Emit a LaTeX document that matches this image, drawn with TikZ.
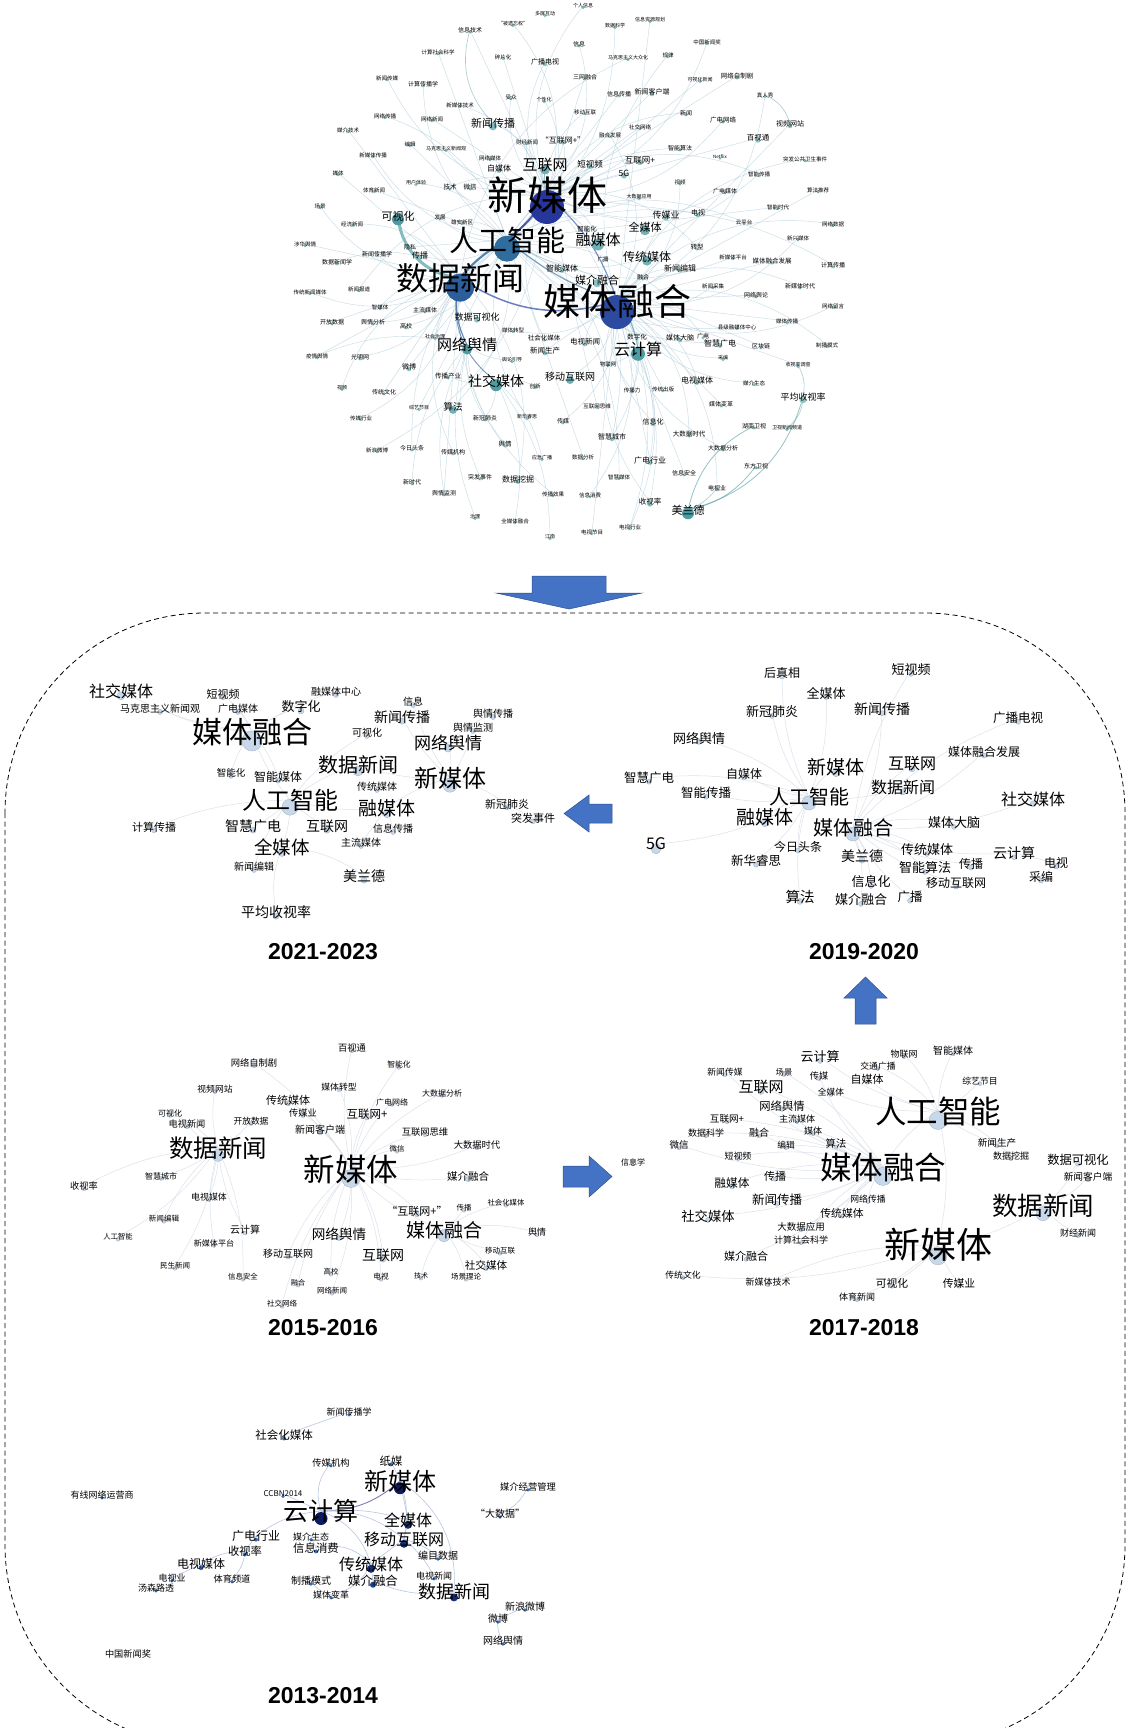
\documentclass[tikz,border=0pt]{standalone}
\usepackage{fontspec}
\newfontfamily\cjk{Noto Sans CJK SC}
\newfontfamily\yrfont{Liberation Sans}
\pgfdeclarelayer{bg}
\pgfsetlayers{bg,main}
\definecolor{arrowblue}{HTML}{4472C4}
\definecolor{arrowedge}{HTML}{2F528F}
\definecolor{tdot}{HTML}{8CC3C3}
\definecolor{tmid}{HTML}{4E9CA2}
\definecolor{navyA}{HTML}{26369A}
\definecolor{navyB}{HTML}{2C4BA0}
\definecolor{steelA}{HTML}{2E6D9E}
\definecolor{steelB}{HTML}{2B5E9A}
\definecolor{tline}{HTML}{A5C6D6}
\definecolor{pale}{HTML}{C7D8EB}
\definecolor{pgray}{HTML}{A3ABB5}
\definecolor{pline}{HTML}{DCE2EA}
\definecolor{udark}{HTML}{0D1B5E}
\definecolor{ublue}{HTML}{2F6FC0}
\definecolor{uline}{HTML}{B9C6E2}
\definecolor{upurple}{HTML}{7F7BB8}
\tikzset{
  lbl/.style={inner sep=0pt, text=black},
  dotc/.style={fill=tdot},
  tedge/.style={draw=tline, line width=0.45pt, opacity=0.6},
  pedge/.style={draw=pline, line width=0.5pt},
  uedge/.style={draw=uline, line width=0.6pt},
  yr/.style={font=\yrfont\bfseries\fontsize{23}{23}\selectfont, inner sep=0pt},
  blockarrow/.style={fill=arrowblue, draw=arrowedge, line width=0.5pt},
}
% [dot style]{name}{x}{y}{font size}{dot radius}{text}
\newcommand\K[7][]{%
  \fill[dotc,#1] (#3,#4+0.3*#5) circle (#6pt);%
  \node[lbl,font=\cjk\fontsize{#5}{#5}\selectfont] (#2) at (#3,#4) {#7};}
\begin{document}
\begin{tikzpicture}[x=1pt,y=-1pt]
\useasboundingbox (0,0) rectangle (1128,1728);
\begin{pgfonlayer}{bg}
\fill[white] (0,0) rectangle (1128,1728);
\end{pgfonlayer}

% ================= TOP NETWORK =================
\K{a1}{470}{30}{6}{1.8}{信息技术}
\K{a2}{438}{52}{5.5}{1.8}{计算社会科学}
\K{a3}{387}{78}{5.5}{1.8}{新闻传媒}
\K{a4}{423}{84}{6}{1.8}{计算传播学}
\K{a5}{460}{105}{5.5}{1.8}{新媒体技术}
\K{a6}{385}{116}{5.5}{1.8}{网络传播}
\K{a7}{432}{119}{5.5}{1.8}{网络新闻}
\K{a8}{348}{130}{5.5}{1.8}{媒介技术}
\K{a9}{410}{144}{5.5}{1.8}{编辑}
\K{a10}{446}{149}{5}{1.8}{马克思主义新闻观}
\K{a11}{373}{155}{5.5}{1.8}{新媒体传播}
\K{a12}{338}{173}{5.5}{1.8}{媒体}
\K{a13}{416}{183}{5}{1.8}{用户体验}
\K{a14}{450}{187}{6.5}{1.8}{技术}
\K{a15}{470}{187}{6.5}{1.8}{微信}
\K{a16}{374}{190}{5.5}{1.8}{体育新闻}
\K{a17}{320}{206}{5.5}{1.8}{场景}
\K[fill=tmid]{a18}{398}{216}{11}{6}{可视化}
\K{a19}{440}{217}{5.5}{1.8}{发展}
\K{a20}{462}{222}{5.5}{1.8}{雄安新区}
\K{a21}{352}{224}{5.5}{1.8}{经济新闻}
\K{a22}{305}{244}{5.5}{1.8}{涉华舆情}
\K{a23}{410}{247}{6}{1.8}{隐私}
\K{a24}{420}{255}{8}{2.5}{传播}
\K{a25}{377}{254}{6}{1.8}{新闻传播学}
\K{a26}{337}{262}{6}{1.8}{数据新闻学}
\K{a27}{583}{6}{5}{1.8}{个人信息}
\K{a28}{545}{14}{5}{1.8}{多屏互动}
\K{a29}{513}{24}{5}{1.8}{“被遗忘权”}
\K{a30}{615}{26}{5}{1.8}{数据科学}
\K{a31}{650}{20}{5}{1.8}{信息资源规划}
\K{a32}{503}{57}{5.5}{1.8}{碎片化}
\K{a33}{545}{62}{7}{2.2}{广播电视}
\K{a34}{579}{44}{6}{1.8}{信息}
\K{a35}{628}{58}{5}{1.8}{马克思主义大众化}
\K{a36}{668}{55}{5.5}{1.8}{规律}
\K{a37}{585}{77}{6}{1.8}{三网融合}
\K{a38}{511}{97}{5.5}{1.8}{受众}
\K{a39}{544}{100}{5}{1.8}{个性化}
\K{a40}{619}{94}{6}{1.8}{信息传播}
\K{a41}{652}{92}{7}{2.2}{新闻客户端}
\K{a42}{585}{112}{5.5}{1.8}{移动互联}
\K[fill=tmid!70]{a43}{493}{123}{11}{4}{新闻传播}
\K{a44}{640}{127}{5.5}{1.8}{社交网络}
\K{a45}{610}{135}{5.5}{1.8}{融合发展}
\K{a46}{527}{142}{5.5}{1.8}{财经新闻}
\K{a47}{563}{140}{8}{2.2}{“互联网+”}
\K{a48}{640}{160}{8.5}{2.5}{互联网+}
\K{a49}{490}{158}{5.5}{1.8}{网络媒体}
\K[fill=tmid!80]{a50}{545}{165}{15}{5}{互联网}
\K{a51}{590}{164}{8.5}{2.5}{短视频}
\K{a52}{624}{173}{8.5}{3}{5G}
\K{a53}{499}{168}{8}{2.5}{自媒体}
\K{a55}{639}{197}{5}{1.8}{大数据应用}
\K{a56}{666}{215}{9}{3}{传媒业}
\K[fill=tmid!80]{a57}{645}{227}{11}{5}{全媒体}
\K{a59}{587}{229}{6.5}{1.8}{智能化}
\K[fill=tmid!80]{a60}{598}{240}{15}{6}{融媒体}
\K[fill=tmid!80]{a61}{647}{257}{12}{5}{传统媒体}
\K{a62}{603}{259}{5.5}{1.8}{广播}
\K{a63}{562}{268}{8}{2.5}{智能媒体}
\K{a64}{707}{42}{5.5}{1.8}{中国新闻奖}
\K{a65}{700}{80}{5}{1.8}{可视化新闻}
\K{a66}{737}{76}{6.5}{1.8}{网络自制剧}
\K{a67}{765}{95}{5.5}{1.8}{真人秀}
\K{a68}{686}{113}{6}{1.8}{新闻}
\K{a69}{723}{120}{6.5}{1.8}{广电网络}
\K{a70}{790}{124}{7}{2.2}{视频网站}
\K{a71}{758}{138}{7.5}{2.5}{百视通}
\K{a72}{680}{148}{6}{1.8}{智能算法}
\K{a73}{720}{157}{4.5}{1.5}{Netflix}
\K{a74}{805}{159}{5.5}{1.8}{突发公共卫生事件}
\K{a75}{759}{174}{5.5}{1.8}{智能传播}
\K{a76}{680}{182}{5.5}{1.8}{视频}
\K{a77}{725}{191}{6}{1.8}{广电媒体}
\K{a78}{818}{190}{5.5}{1.8}{算法推荐}
\K{a79}{778}{207}{5.5}{1.8}{智能时代}
\K{a80}{698}{213}{7}{2.2}{电视}
\K{a81}{744}{222}{5.5}{1.8}{云平台}
\K{a82}{833}{224}{5.5}{1.8}{网络数据}
\K{a83}{798}{238}{5.5}{1.8}{新兴媒体}
\K{a84}{697}{247}{6.5}{1.8}{转型}
\K{a85}{733}{257}{5.5}{1.8}{新媒体平台}
\K{a86}{772}{261}{6.5}{1.8}{媒体融合发展}
\K{a87}{833}{265}{6}{1.8}{计算传播}
\K{a88}{680}{268}{8}{2.2}{新闻编辑}
\K{b2}{310}{292}{5.5}{1.8}{传统新闻媒体}
\K{b3}{359}{289}{5.5}{1.8}{新闻报道}
\K{b4}{380}{307}{5.5}{1.8}{智媒体}
\K{b5}{425}{310}{6}{1.8}{主流媒体}
\K{b6}{332}{322}{6}{1.8}{开放数据}
\K{b7}{373}{322}{6}{1.8}{舆情分析}
\K{b8}{406}{326}{6}{1.8}{高校}
\K{b9}{435}{337}{5}{1.8}{社会治理}
\K{b10}{477}{317}{9}{3}{数据可视化}
\K[fill=tmid]{b11}{467}{345}{15}{5}{网络舆情}
\K{b12}{317}{356}{5.5}{1.8}{疫情舆情}
\K{b13}{360}{357}{6}{1.8}{光明网}
\K{b14}{409}{367}{7}{2.2}{微博}
\K{b15}{448}{376}{6.5}{1.8}{传播产业}
\K{b16}{342}{388}{5}{1.8}{视频}
\K{b17}{384}{392}{6}{1.8}{传统文化}
\K{b18}{419}{408}{5}{1.8}{综艺节目}
\K[fill=tmid!80]{b19}{453}{407}{9.5}{4}{算法}
\K{b20}{361}{418}{5.5}{1.8}{传媒行业}
\K{b21}{377}{450}{5.5}{1.8}{新浪微博}
\K{b22}{412}{448}{6}{1.8}{今日头条}
\K{b23}{453}{452}{6}{1.8}{传媒机构}
\K{b24}{412}{482}{6}{1.8}{新时代}
\K{b25}{444}{493}{6}{1.8}{舆情监测}
\K{b26}{597}{280}{11}{4}{媒介融合}
\K{b27}{643}{277}{6}{1.8}{融合}
\K{b29}{513}{330}{5.5}{1.8}{媒体转型}
\K{b30}{544}{338}{6.5}{1.8}{社会化媒体}
\K{b31}{585}{342}{7.5}{2.2}{电视新闻}
\K{b32}{637}{337}{6.5}{1.8}{数字化}
\K{b33}{545}{351}{7.5}{2.2}{新闻生产}
\K[fill=tmid]{b34}{638}{349}{16}{7}{云计算}
\K{b35}{512}{360}{5}{1.8}{舆论引导}
\K{b36}{608}{364}{5.5}{1.8}{物联网}
\K[fill=tmid!80]{b37}{570}{377}{10}{4}{移动互联网}
\K[fill=tmid]{b38}{496}{381}{14}{6}{社交媒体}
\K{b39}{535}{386}{5.5}{1.8}{创新}
\K{b40}{632}{390}{5.5}{1.8}{传播力}
\K{b41}{663}{389}{5.5}{1.8}{传统出版}
\K{b42}{597}{406}{5.5}{1.8}{互联网思维}
\K{b43}{485}{418}{6}{1.8}{新冠肺炎}
\K{b44}{527}{417}{5}{1.8}{新华睿思}
\K{b45}{563}{421}{6}{1.8}{传媒}
\K{b46}{653}{422}{7}{2.2}{信息化}
\K{b47}{612}{437}{7}{2.2}{智慧城市}
\K{b48}{505}{444}{6.5}{1.8}{舆情}
\K{b49}{542}{458}{5}{1.8}{应急广播}
\K{b50}{583}{457}{5.5}{1.8}{数据分析}
\K{b51}{650}{460}{8}{2.5}{广电行业}
\K{b52}{480}{477}{6}{1.8}{突发事件}
\K{b53}{518}{479}{8}{2.5}{数据挖掘}
\K{b54}{619}{477}{5.5}{1.8}{智慧媒体}
\K{b55}{553}{494}{5.5}{1.8}{传播效果}
\K{b56}{590}{495}{5.5}{1.8}{信息消费}
\K{b57}{650}{502}{7.5}{2.5}{收视率}
\K{b58}{475}{517}{5}{1.8}{治理}
\K{b59}{515}{521}{5.5}{1.8}{全媒体融合}
\K{b60}{592}{532}{5.5}{1.8}{电视节目}
\K{b61}{630}{527}{5.5}{1.8}{电视行业}
\K{b62}{550}{537}{5}{1.8}{江南}
\K{b63}{713}{286}{5.5}{1.8}{新闻采集}
\K{b64}{756}{295}{6}{1.8}{网络舆论}
\K{b65}{800}{286}{6}{1.8}{新媒体时代}
\K{b66}{833}{306}{5.5}{1.8}{网络留言}
\K{b67}{787}{321}{5.5}{1.8}{媒体传播}
\K{b68}{737}{327}{5.5}{1.8}{县级融媒体中心}
\K{b69}{680}{338}{7}{2.2}{媒体大脑}
\K{b70}{703}{336}{6}{1.8}{广电}
\K{b71}{720}{343}{8}{2.5}{智慧广电}
\K{b72}{761}{346}{6}{1.8}{区块链}
\K{b73}{827}{345}{5.5}{1.8}{制播模式}
\K{b74}{723}{358}{5}{1.8}{采编}
\K{b75}{798}{365}{5}{1.8}{收视率调查}
\K{b76}{697}{380}{8}{2.5}{电视媒体}
\K{b77}{754}{383}{5.5}{1.8}{媒介生态}
\K{b78}{803}{397}{9}{3.5}{平均收视率}
\K{b79}{721}{404}{6}{1.8}{媒体变革}
\K{b80}{754}{426}{6}{1.8}{湖南卫视}
\K{b81}{787}{428}{5}{1.8}{卫视新闻频道}
\K{b82}{689}{434}{6.5}{1.8}{大数据时代}
\K{b83}{723}{448}{6}{1.8}{大数据分析}
\K{b84}{756}{466}{6}{1.8}{东方卫视}
\K{b85}{684}{473}{6}{1.8}{信息安全}
\K{b86}{717}{488}{6}{1.8}{电视业}
\K[fill=tmid]{b87}{688}{510}{11}{6}{美兰德}
% hubs (drawn last so they sit on top)
\K[fill=steelB]{b1}{460}{278}{32}{14}{数据新闻}
\K[fill=steelA]{a58}{507}{240}{29}{13}{人工智能}
\K[fill=navyB]{b28}{617}{301}{37}{17}{媒体融合}
\K[fill=navyA]{a54}{547}{195}{40}{17}{新媒体}

\begin{pgfonlayer}{bg}
\foreach \x [count=\i, evaluate=\i as \bb using {28*mod(\i,3)-28}] in {a1,a3,a5,a7,a10,a14,a15,a27,a29,a32,a33,a34,a37,a38,a39,a41,a42,a43,a44,a46,a47,a48,a50,a51,a52,a53,a55,a59,a60,a64,a66,a68,a69,a71,a75,a77,a80,a84,b3,b14,b21,b30,b42,b47}
  \draw[tedge] (a54.center) to[bend left=\bb] (\x.center);
\foreach \x [count=\i, evaluate=\i as \bb using {26*mod(\i,3)-26}] in {a2,a4,a6,a9,a11,a13,a16,a19,a20,a23,a24,a30,a40,a57,a61,a63,a72,a75,a79,a81,a85,b5,b8,b9,b18,b19,b22,b32,b36,b44,b50,b54,b68,b69,b70,b71,b72,a87}
  \draw[tedge] (a58.center) to[bend left=\bb] (\x.center);
\foreach \x [count=\i, evaluate=\i as \bb using {28*mod(\i,3)-28}] in {a12,a17,a21,a22,a25,a26,a8,b2,b4,b6,b7,b10,b12,b13,b16,b17,b20,b23,b25,b53,b55,a65,a35}
  \draw[tedge] (b1.center) to[bend left=\bb] (\x.center);
\foreach \x [count=\i, evaluate=\i as \bb using {28*mod(\i,3)-28}] in {a31,a36,a45,a56,a62,a67,a70,a74,a76,a78,a82,a83,a86,a88,b26,b27,b29,b31,b33,b37,b40,b41,b45,b46,b51,b56,b57,b60,b61,b63,b64,b65,b66,b67,b73,b74,b75,b76,b77,b79,b82,b83,b85,b86}
  \draw[tedge] (b28.center) to[bend left=\bb] (\x.center);
\foreach \x in {b47,b51,b57,b61,b40,b36}
  \draw[tedge] (b34.center) to[bend left=15] (\x.center);
\foreach \x in {b12,b24,b25,b35,b43,b48,b52,b58}
  \draw[tedge] (b11.center) to[bend right=18] (\x.center);
\foreach \x in {b39,b43,b49,b59,b62,b15}
  \draw[tedge] (b38.center) to[bend left=18] (\x.center);
\draw[draw=tmid!80, line width=3pt, opacity=0.85] (a18.center) to[bend right=40] (b1.center);
\draw[draw=navyA, line width=2pt, opacity=0.8] (a54.center) to[bend left=10] (a58.center);
\draw[draw=steelA, line width=2.2pt, opacity=0.8] (a58.center) to[bend right=10] (b1.center);
\draw[draw=navyB, line width=1.5pt, opacity=0.7] (b28.center) to[bend left=25] (b1.center);
\draw[draw=navyB, line width=1.2pt, opacity=0.6] (b28.center) to[bend right=15] (a54.center);
\draw[draw=steelA, line width=1.2pt, opacity=0.6] (b28.center) to[bend left=10] (a58.center);
\draw[draw=steelB, line width=1.2pt, opacity=0.7] (b11.center) to[bend left=20] (b1.center);
\draw[draw=steelB, line width=1pt, opacity=0.6] (b38.center) to[bend left=35] (b1.center);
\draw[draw=tmid, line width=1.2pt, opacity=0.7] (b34.center) to[bend right=15] (b28.center);
\draw[draw=tmid, line width=0.8pt, opacity=0.6] (b87.center) to[bend right=30] (b78.center);
\draw[draw=tmid, line width=0.8pt, opacity=0.6] (b87.center) to[bend left=25] (b80.center);
\draw[draw=tmid, line width=0.8pt, opacity=0.6] (b87.center) to[bend right=20] (b84.center);
\draw[draw=tmid, line width=0.6pt, opacity=0.5] (b87.center) to[bend right=15] (b86.center);
\draw[draw=tmid, line width=0.6pt, opacity=0.5] (b78.center) to[bend left=25] (b81.center);
\draw[draw=tmid, line width=0.6pt, opacity=0.5] (b78.center) to[bend right=20] (b75.center);
\draw[draw=tmid, line width=1pt, opacity=0.6] (a54.center) to[bend left=10] (a50.center);
\draw[draw=tmid, line width=0.6pt, opacity=0.5] (a1.center) to[bend right=30] (a43.center);
\draw[draw=tmid, line width=0.6pt, opacity=0.5] (a67.center) to[bend left=25] (a70.center);
\end{pgfonlayer}

% ================= ARROWS AND FRAME =================
\filldraw[blockarrow] (532,576) -- (606,576) -- (606,593) -- (642,593) -- (569,609) -- (496,593) -- (532,593) -- cycle;
\draw[dash pattern=on 5pt off 3.5pt, line width=0.8pt, rounded corners=200pt] (5,613) rectangle (1125,1745);
\filldraw[blockarrow] (612,804) -- (589,804) -- (589,795) -- (564,813.5) -- (589,832) -- (589,823) -- (612,823) -- cycle;
\filldraw[blockarrow] (855,1024) -- (855,998) -- (844,998) -- (865.5,977) -- (887,998) -- (876,998) -- (876,1024) -- cycle;
\filldraw[blockarrow] (563,1166) -- (589,1166) -- (589,1156) -- (612,1176.5) -- (589,1197) -- (589,1187) -- (563,1187) -- cycle;

% ================= LOWER PANELS =================
\begin{scope}[dotc/.style={fill=pale, draw=pgray, line width=0.3pt}]
% ---- 2021-2023 ----
\K{p1}{121}{691}{16}{4}{社交媒体}
\K{p2}{223}{694}{11}{2.5}{短视频}
\K{p3}{336}{692}{10}{2.5}{融媒体中心}
\K{p4}{160}{709}{10}{2.5}{马克思主义新闻观}
\K{p5}{238}{709}{10}{2.5}{广电媒体}
\K{p6}{301}{707}{13}{3}{数字化}
\K{p7}{413}{702}{10}{2.5}{信息}
\K{p8}{402}{717}{14}{3}{新闻传播}
\K{p9}{493}{714}{10}{2.5}{舆情传播}
\K{p10}{473}{728}{10}{2.5}{舆情监测}
\K{p11}{252}{732}{30}{10}{媒体融合}
\K{p12}{367}{733}{10}{2.5}{可视化}
\K{p13}{448}{743}{17}{4}{网络舆情}
\K{p14}{358}{765}{20}{5}{数据新闻}
\K{p15}{450}{778}{24}{7}{新媒体}
\K{p16}{231}{773}{9.5}{2.5}{智能化}
\K{p17}{278}{777}{12}{2.5}{智能媒体}
\K{p18}{377}{787}{10}{2.5}{传统媒体}
\K{p19}{290}{800}{24}{8}{人工智能}
\K{p20}{387}{808}{19}{4}{融媒体}
\K{p21}{507}{804}{11}{2.5}{新冠肺炎}
\K{p22}{533}{818}{11}{2.5}{突发事件}
\K{p23}{154}{827}{11}{2.5}{计算传播}
\K{p24}{253}{826}{14}{3}{智慧广电}
\K{p25}{327}{826}{14}{3}{互联网}
\K{p26}{393}{829}{10}{2.5}{信息传播}
\K{p27}{282}{847}{18.5}{4}{全媒体}
\K{p28}{361}{843}{10}{2.5}{主流媒体}
\K{p29}{254}{867}{10}{2.5}{新闻编辑}
\K{p30}{364}{876}{14}{3}{美兰德}
\K{p31}{276}{912}{14}{3}{平均收视率}
\node[yr] (y1) at (323,952) {2021-2023};
% ---- 2019-2020 ----
\K{q1}{782}{673}{12}{2.5}{后真相}
\K{q2}{911}{670}{13}{2.5}{短视频}
\K{q3}{826}{693}{13}{2.5}{全媒体}
\K{q4}{772}{712}{13}{2.5}{新冠肺炎}
\K{q5}{882}{709}{14}{2.5}{新闻传播}
\K{q6}{1018}{718}{12.5}{2.5}{广播电视}
\K{q7}{699}{738}{13}{2.5}{网络舆情}
\K{q8}{984}{752}{12}{2.5}{媒体融合发展}
\K{q9}{744}{774}{12}{2.5}{自媒体}
\K{q10}{836}{767}{19}{4}{新媒体}
\K{q11}{912}{764}{16}{3}{互联网}
\K{q12}{649}{778}{12.5}{2.5}{智慧广电}
\K{q13}{706}{793}{12.5}{2.5}{智能传播}
\K{q14}{903}{787}{16}{3}{数据新闻}
\K{q15}{809}{797}{20}{7}{人工智能}
\K{q16}{1033}{799}{16}{3}{社交媒体}
\K{q17}{765}{817}{19}{4}{融媒体}
\K{q18}{853}{828}{20}{7}{媒体融合}
\K{q19}{954}{823}{13}{2.5}{媒体大脑}
\K{q20}{656}{844}{16}{5}{5G}
\K{q21}{798}{847}{12}{2.5}{今日头条}
\K{q22}{756}{861}{12.5}{2.5}{新华睿思}
\K{q23}{862}{856}{14}{3}{美兰德}
\K{q24}{927}{850}{13}{2.5}{传统媒体}
\K{q25}{1014}{853}{14}{2.5}{云计算}
\K{q26}{925}{868}{13}{2.5}{智能算法}
\K{q27}{971}{864}{12}{2.5}{传播}
\K{q28}{1056}{863}{12}{2.5}{电视}
\K{q29}{1041}{877}{12}{2.5}{采编}
\K{q30}{871}{882}{13}{2.5}{信息化}
\K{q31}{956}{883}{12}{2.5}{移动互联网}
\K{q32}{800}{897}{14.5}{3}{算法}
\K{q33}{861}{900}{13}{2.5}{媒介融合}
\K{q34}{910}{897}{12.5}{2.5}{广播}
\node[yr] (y2) at (864,952) {2019-2020};
% ---- 2015-2016 ----
\K{r1}{352}{1048}{9.3}{2}{百视通}
\K{r2}{254}{1063}{9.3}{2}{网络自制剧}
\K{r3}{399}{1065}{7.8}{2}{智能化}
\K{r4}{215}{1089}{8.8}{2}{视频网站}
\K{r5}{339}{1087}{8.8}{2}{媒体转型}
\K{r6}{442}{1093}{8}{2}{大数据分析}
\K{r7}{288}{1100}{11}{2.5}{传统媒体}
\K{r8}{392}{1102}{8}{2}{广电网络}
\K{r9}{170}{1113}{8}{2}{可视化}
\K{r10}{303}{1113}{9.2}{2}{传媒业}
\K{r11}{367}{1114}{11.5}{2.5}{互联网+}
\K{r12}{187}{1124}{9.2}{2}{电视新闻}
\K{r13}{251}{1121}{8.7}{2}{开放数据}
\K{r14}{320}{1130}{10}{2}{新闻客户端}
\K{r15}{425}{1132}{9.3}{2}{互联网思维}
\K{r16}{477}{1145}{9.3}{2}{大数据时代}
\K{r17}{218}{1148}{24.5}{6}{数据新闻}
\K{r18}{397}{1149}{7.4}{2}{微信}
\K{r19}{351}{1169}{31.5}{9}{新媒体}
\K{r20}{468}{1176}{10.5}{2.5}{媒介融合}
\K{r21}{161}{1176}{8}{2}{智慧城市}
\K{r22}{84}{1186}{9.2}{2}{收视率}
\K{r23}{209}{1197}{8.9}{2}{电视媒体}
\K{r24}{506}{1203}{7.4}{2}{社会化媒体}
\K{r25}{464}{1208}{7.4}{2}{传播}
\K{r26}{417}{1211}{11}{2.5}{“互联网+”}
\K{r27}{164}{1219}{7.6}{2}{新闻编辑}
\K{r28}{245}{1230}{10}{2}{云计算}
\K{r29}{444}{1230}{19}{6}{媒体融合}
\K{r30}{339}{1234}{13.6}{2.5}{网络舆情}
\K{r31}{537}{1232}{9}{2}{舆情}
\K{r32}{118}{1237}{7.3}{2}{人工智能}
\K{r33}{214}{1243}{8.1}{2}{新媒体平台}
\K{r34}{288}{1254}{10}{2}{移动互联网}
\K{r35}{383}{1255}{14}{3}{互联网}
\K{r36}{500}{1251}{7.5}{2}{移动互联}
\K{r37}{486}{1265}{10.6}{2.5}{社交媒体}
\K{r38}{175}{1266}{7.5}{2}{民生新闻}
\K{r39}{331}{1272}{7.4}{2}{高校}
\K{r40}{243}{1277}{7.4}{2}{信息安全}
\K{r41}{381}{1277}{7.7}{2}{电视}
\K{r42}{421}{1276}{7}{2}{技术}
\K{r43}{466}{1277}{7.5}{2}{场景理论}
\K{r44}{298}{1283}{7.2}{2}{融合}
\K{r45}{332}{1291}{7.5}{2}{网络新闻}
\K{r46}{282}{1304}{7.5}{2}{社交网络}
\node[yr] (y3) at (323,1328) {2015-2016};
% ---- 2017-2018 ----
\K{s1}{820}{1057}{13}{2.5}{云计算}
\K{s2}{904}{1054}{9}{2}{物联网}
\K{s3}{953}{1051}{10}{2}{智能媒体}
\K{s4}{878}{1066}{8.8}{2}{交通广播}
\K{s5}{725}{1072}{8.8}{2}{新闻传媒}
\K{s6}{784}{1072}{8.3}{2}{场景}
\K{s7}{819}{1076}{9.2}{2}{传媒}
\K{s8}{867}{1079}{11}{2}{自媒体}
\K{s9}{980}{1081}{8.8}{2}{综艺节目}
\K{s10}{761}{1087}{15}{3}{互联网}
\K{s11}{831}{1092}{8.7}{2}{全媒体}
\K{s12}{938}{1111}{31.5}{9}{人工智能}
\K{s13}{782}{1106}{11.3}{2}{网络舆情}
\K{s14}{727}{1119}{9.6}{2}{互联网+}
\K{s15}{797}{1119}{9}{2}{主流媒体}
\K{s16}{706}{1133}{9}{2}{数据科学}
\K{s17}{759}{1133}{10}{2}{融合}
\K{s18}{813}{1131}{9}{2}{媒体}
\K{s19}{679}{1145}{9.5}{2}{微信}
\K{s20}{786}{1145}{8.7}{2}{编辑}
\K{s21}{836}{1144}{10.3}{2}{算法}
\K{s22}{997}{1143}{9.6}{2}{新闻生产}
\K{s23}{1011}{1156}{9}{2}{数据挖掘}
\K{s24}{738}{1156}{8.9}{2}{短视频}
\K{s25}{1078}{1160}{12.3}{2.5}{数据可视化}
\K{s26}{883}{1167}{31.5}{9}{媒体融合}
\K{s27}{633}{1162}{8}{1.5}{信息学}
\K{s28}{1088}{1177}{9.7}{2}{新闻客户端}
\K{s29}{775}{1176}{11}{2}{传播}
\K{s30}{732}{1183}{11.7}{2.5}{融媒体}
\K{s31}{777}{1200}{12.5}{2.5}{新闻传播}
\K{s32}{868}{1199}{8.8}{2}{网络传播}
\K{s33}{1043}{1206}{25.5}{7}{数据新闻}
\K{s34}{708}{1216}{13.3}{2.5}{社交媒体}
\K{s35}{842}{1213}{10.8}{2}{传统媒体}
\K{s36}{1078}{1233}{9}{2}{财经新闻}
\K{s37}{801}{1227}{9.5}{2}{大数据应用}
\K{s38}{801}{1240}{9}{2}{计算社会科学}
\K{s39}{938}{1245}{36}{9}{新媒体}
\K{s40}{746}{1256}{11}{2}{媒介融合}
\K{s41}{683}{1275}{8.8}{2}{传统文化}
\K{s42}{768}{1282}{9}{2}{新媒体技术}
\K{s43}{892}{1283}{10.8}{2}{可视化}
\K{s44}{959}{1283}{10.8}{2}{传媒业}
\K{s45}{857}{1297}{9}{2}{体育新闻}
\node[yr] (y4) at (864,1328) {2017-2018};
\end{scope}

% ---- 2013-2014 ----
\begin{scope}[dotc/.style={fill=ublue}]
\K{u1}{349}{1412}{9}{1.8}{新闻传播学}
\K{u2}{284}{1435}{11.5}{2}{社会化媒体}
\K{u3}{331}{1463}{9.3}{1.8}{传媒机构}
\K{u4}{391}{1461}{11.3}{2}{纸媒}
\K[fill=udark]{u5}{400}{1481}{24}{6}{新媒体}
\K{u6}{528}{1487}{9.3}{1.8}{媒介经营管理}
\K{u7}{102}{1495}{9}{1.8}{有线网络运营商}
\K{u8}{283}{1494}{8}{1.8}{CCBN2014}
\K[fill=udark]{u9}{321}{1511}{25}{6.5}{云计算}
\K{u10}{500}{1514}{10}{1.8}{“大数据”}
\K[fill=udark!80!ublue]{u11}{408}{1520}{16}{4}{全媒体}
\K{u12}{256}{1536}{12}{2}{广电行业}
\K{u13}{311}{1537}{9}{1.8}{媒介生态}
\K[fill=udark!80!ublue]{u14}{404}{1539}{16}{4}{移动互联网}
\K{u15}{245}{1551}{11.3}{2}{收视率}
\K{u16}{316}{1548}{11.4}{2}{信息消费}
\K{u17}{438}{1556}{10}{1.8}{编目数据}
\K{u18}{201}{1564}{12}{2.5}{电视媒体}
\K[fill=udark!80!ublue]{u19}{371}{1564}{16}{4}{传统媒体}
\K{u20}{434}{1576}{9}{1.8}{电视新闻}
\K{u21}{172}{1578}{9}{1.8}{电视业}
\K{u22}{232}{1579}{9.2}{1.8}{体育频道}
\K{u23}{311}{1581}{10}{1.8}{制播模式}
\K[fill=udark!60!ublue]{u24}{373}{1581}{12.4}{3}{媒介融合}
\K{u25}{156}{1588}{9}{1.8}{汤森路透}
\K[fill=udark!80!ublue]{u26}{454}{1592}{18}{4}{数据新闻}
\K{u27}{331}{1595}{9}{1.8}{媒体变革}
\K{u28}{525}{1607}{10}{1.8}{新浪微博}
\K{u29}{498}{1619}{10}{1.8}{微博}
\K{u30}{503}{1641}{10}{1.8}{网络舆情}
\K{u31}{128}{1654}{9.2}{0}{中国新闻奖}
\node[yr] (y5) at (323,1696) {2013-2014};
\end{scope}

\begin{pgfonlayer}{bg}
% 2021-2023 links
\foreach \x [count=\i, evaluate=\i as \bb using {20*mod(\i,2)-10}] in {p1,p2,p4,p5,p6,p16,p17,p19,p3}
  \draw[pedge] (p11.center) to[bend left=\bb] (\x.center);
\foreach \x [count=\i, evaluate=\i as \bb using {20*mod(\i,2)-10}] in {p8,p13,p14,p20,p21,p10,p7}
  \draw[pedge] (p15.center) to[bend left=\bb] (\x.center);
\foreach \x [count=\i, evaluate=\i as \bb using {20*mod(\i,2)-10}] in {p24,p25,p27,p20,p14,p23,p12,p29}
  \draw[pedge] (p19.center) to[bend left=\bb] (\x.center);
\draw[pedge] (p13.center) to[bend left=10] (p9.center);
\draw[pedge] (p21.center) to (p22.center);
\draw[pedge] (p20.center) to (p26.center);
\draw[pedge] (p20.center) to (p28.center);
\draw[pedge] (p27.center) to[bend left=15] (p30.center);
\draw[pedge] (p27.center) to[bend right=15] (p31.center);
% 2019-2020 links
\foreach \x [count=\i, evaluate=\i as \bb using {24*mod(\i,2)-12}] in {q1,q3,q4,q7,q9,q12,q13,q17,q20,q21,q22,q32,q10,q14}
  \draw[pedge] (q15.center) to[bend left=\bb] (\x.center);
\foreach \x [count=\i, evaluate=\i as \bb using {24*mod(\i,2)-12}] in {q2,q5,q6,q8,q11,q16,q19,q23,q24,q25,q26,q27,q30,q31,q33,q34}
  \draw[pedge] (q18.center) to[bend left=\bb] (\x.center);
\draw[pedge] (q25.center) to (q28.center);
\draw[pedge] (q28.center) to (q29.center);
% 2015-2016 links
\foreach \x [count=\i, evaluate=\i as \bb using {24*mod(\i,2)-12}] in {r1,r2,r3,r5,r6,r7,r8,r10,r11,r14,r15,r16,r18,r20,r26,r29,r30,r34,r35,r39,r41,r44,r45,r46}
  \draw[pedge] (r19.center) to[bend left=\bb] (\x.center);
\foreach \x [count=\i, evaluate=\i as \bb using {24*mod(\i,2)-12}] in {r4,r9,r12,r13,r21,r22,r23,r27,r32,r33,r38,r28,r40}
  \draw[pedge] (r17.center) to[bend left=\bb] (\x.center);
\foreach \x [count=\i, evaluate=\i as \bb using {24*mod(\i,2)-12}] in {r24,r25,r31,r36,r37,r42,r43}
  \draw[pedge] (r29.center) to[bend left=\bb] (\x.center);
% 2017-2018 links
\foreach \x [count=\i, evaluate=\i as \bb using {24*mod(\i,2)-12}] in {s1,s2,s3,s4,s8,s9,s11,s22,s23,s26,s39}
  \draw[pedge] (s12.center) to[bend left=\bb] (\x.center);
\foreach \x [count=\i, evaluate=\i as \bb using {24*mod(\i,2)-12}] in {s5,s6,s7,s10,s13,s14,s15,s16,s17,s18,s19,s20,s21,s24,s29,s30,s31,s32,s34,s35,s37,s38,s40}
  \draw[pedge] (s26.center) to[bend left=\bb] (\x.center);
\foreach \x [count=\i, evaluate=\i as \bb using {24*mod(\i,2)-12}] in {s41,s42,s43,s44,s45,s33}
  \draw[pedge] (s39.center) to[bend left=\bb] (\x.center);
\foreach \x in {s25,s28,s36}
  \draw[pedge] (s33.center) to[bend right=15] (\x.center);
% 2013-2014 links
\draw[draw=upurple, line width=0.9pt] (u9.center) to[bend right=20] (u5.center);
\draw[uedge] (u9.center) to[bend left=10] (u11.center);
\draw[uedge] (u5.center) to (u11.center);
\draw[uedge] (u5.center) to[bend left=15] (u14.center);
\draw[uedge] (u5.center) to[bend left=30] (u26.center);
\draw[uedge] (u11.center) to (u14.center);
\draw[uedge] (u14.center) to (u19.center);
\draw[uedge] (u9.center) to[bend left=25] (u19.center);
\draw[uedge] (u19.center) to (u24.center);
\draw[uedge] (u24.center) to[bend right=15] (u26.center);
\draw[uedge] (u14.center) to[bend left=10] (u17.center);
\draw[uedge] (u14.center) to[bend left=10] (u20.center);
\draw[uedge] (u9.center) to[bend left=30] (u3.center);
\draw[uedge] (u9.center) to (u8.center);
\draw[uedge] (u9.center) to[bend right=15] (u12.center);
\draw[uedge] (u9.center) to[bend left=20] (u14.center);
\draw[uedge] (u12.center) to (u15.center);
\draw[uedge] (u15.center) to[bend right=15] (u18.center);
\draw[uedge] (u15.center) to[bend left=20] (u22.center);
\draw[uedge] (u18.center) to (u21.center);
\draw[uedge] (u13.center) to (u16.center);
\draw[uedge] (u16.center) to[bend left=30] (u19.center);
\draw[uedge] (u23.center) to[bend right=20] (u27.center);
\draw[uedge] (u19.center) to[bend left=25] (u27.center);
\draw[uedge] (u6.center) to[bend left=20] (u10.center);
\draw[uedge] (u28.center) to (u29.center);
\draw[uedge] (u29.center) to[bend right=20] (u30.center);
\draw[uedge] (u1.center) to (u2.center);
\draw[uedge] (u5.center) to (u4.center);
\end{pgfonlayer}
\end{tikzpicture}
\end{document}
